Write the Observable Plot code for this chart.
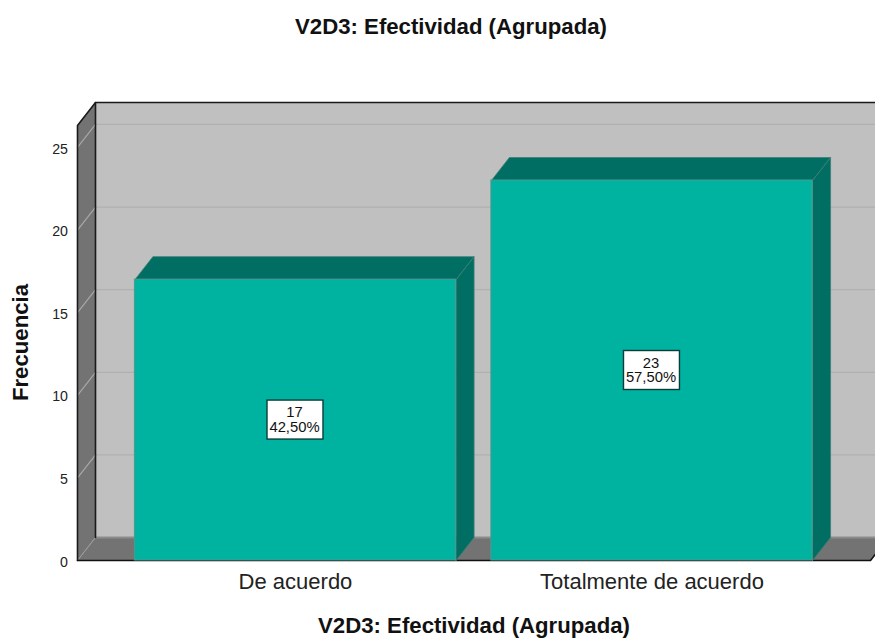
<!DOCTYPE html>
<html>
<head>
<meta charset="utf-8">
<script src="https://cdn.jsdelivr.net/npm/d3@7"></script>
<script src="https://cdn.jsdelivr.net/npm/@observablehq/plot@0.6"></script>
<style>
html,body{margin:0;padding:0;background:#fff;overflow:hidden}
#title{height:60px;box-sizing:border-box;padding-top:14px;width:902px;text-align:center;font:bold 22.2px "Liberation Sans",Arial,sans-serif;color:#111}
svg{display:block}
</style>
</head>
<body>
<div id="title"></div>
<div id="chart"></div>
<script>
const chartTitle = "V2D3: Efectividad (Agrupada)";
const yTitle = "Frecuencia";
const categories = ["De acuerdo", "Totalmente de acuerdo"];
const counts = [17, 23];
const percents = ["42,50%", "57,50%"];
const yTicks = [0, 5, 10, 15, 20, 25];

document.getElementById("title").textContent = chartTitle;

// Chart geometry in scale units
const xMin = -0.6115, xMax = 1.613, yMax = 26.33;
const dx = 0.0505, dy = 1.392;      // 3D depth
const half = 0.4505;                // half a bar
const boxW = 0.0785, boxH = 1.18;   // label box half sizes

const poly = (id, fill, pts) => pts.concat([pts[0]]).map(([x, y]) => ({id, fill, x, y}));
const polys = [
  ...poly("wall", "#c0c0c0", [[xMin+dx,dy],[xMax+dx,dy],[xMax+dx,yMax+dy],[xMin+dx,yMax+dy]]),
  ...poly("floor", "#737373", [[xMin,0],[xMin+dx,dy],[xMax+dx,dy],[xMax,0]]),
  ...poly("left", "#737373", [[xMin,0],[xMin+dx,dy],[xMin+dx,yMax+dy],[xMin,yMax]])
];
const barFaces = counts.flatMap((c, i) => [
  ...poly("top"+i, "#006e62", [[i-half,c],[i-half+dx,c+dy],[i+half+dx,c+dy],[i+half,c]]),
  ...poly("side"+i, "#006e62", [[i+half,0],[i+half+dx,dy],[i+half+dx,c+dy],[i+half,c]])
]);
const rows = categories.map((c, i) => ({i, c, n: counts[i], p: percents[i]}));
const backGrid = yTicks.filter(t => t > 0);

const line = (pts, o) => Plot.line(pts, {x: d => d[0], y: d => d[1], ...o});

const plot = Plot.plot({
  width: 875, height: 579,
  marginLeft: 77, marginRight: 5, marginTop: 42, marginBottom: 79,
  x: {domain: [xMin, xMax], axis: null},
  y: {domain: [0, yMax + dy], axis: null},
  style: {fontFamily: '"Liberation Sans",Arial,sans-serif', background: "#fff", color: "#111"},
  marks: [
    Plot.line(polys, {x: "x", y: "y", z: "id", fill: "fill", stroke: "none"}),
    // grid on the back wall and its return on the left wall
    ...backGrid.map(t => line([[xMin+dx,t+dy],[xMax+dx,t+dy]], {stroke: "#b0b0b0", strokeWidth: 1.2})),
    ...backGrid.map(t => line([[xMin,t],[xMin+dx,t+dy]], {stroke: "#a8a8a8", strokeWidth: 1.2})),
    line([[xMin,0],[xMin+dx,dy]], {stroke: "#a0a0a0", strokeWidth: 1}),
    line([[xMin+dx,dy],[xMax+dx,dy]], {stroke: "#8c8c8c", strokeWidth: 2}),
    // frame edges
    line([[xMin,0],[xMin,yMax],[xMin+dx,yMax+dy],[xMax+dx,yMax+dy]], {stroke: "#1a1a1a", strokeWidth: 1.6}),
    line([[xMin+dx,dy],[xMin+dx,yMax+dy]], {stroke: "#1a1a1a", strokeWidth: 1.6}),
    line([[xMin,0],[xMax,0],[xMax+dx,dy]], {stroke: "#111", strokeWidth: 1.6}),
    // bars
    Plot.line(barFaces, {x: "x", y: "y", z: "id", fill: "fill", stroke: "#3f7f77", strokeWidth: 0.8}),
    Plot.rect(rows, {x1: d => d.i-half, x2: d => d.i+half, y1: 0, y2: "n", fill: "#00b2a0", stroke: "#4d9a91", strokeWidth: 1}),
    // value boxes
    Plot.rect(rows, {x1: d => d.i-boxW, x2: d => d.i+boxW, y1: d => d.n/2-boxH, y2: d => d.n/2+boxH, fill: "#fff", stroke: "#0b3d38", strokeWidth: 1.4}),
    Plot.text(rows, {x: "i", y: d => d.n/2, text: d => d.n+"\n"+d.p, dx: -1, fontSize: 14.8, lineHeight: 0.98, fill: "#111"}),
    // axes
    Plot.axisY({ticks: yTicks, tickSize: 0, tickPadding: 9, dy: 1.5, dx: -0.5, fontSize: 14.2, label: null, fill: "#222"}),
    Plot.axisX({ticks: [0, 1], tickFormat: i => categories[i], tickSize: 0, tickPadding: 13, fontSize: 22, label: null, fill: "#222"}),
    Plot.text([yTitle], {frameAnchor: "left", textAnchor: "middle", dx: -57, dy: 11, rotate: -90, fontSize: 22.2, fontWeight: "bold", fill: "#111"}),
    Plot.text([chartTitle], {frameAnchor: "bottom", dy: 72, fontSize: 22.2, fontWeight: "bold", fill: "#111"})
  ]
});
document.getElementById("chart").appendChild(plot);
</script>
</body>
</html>
